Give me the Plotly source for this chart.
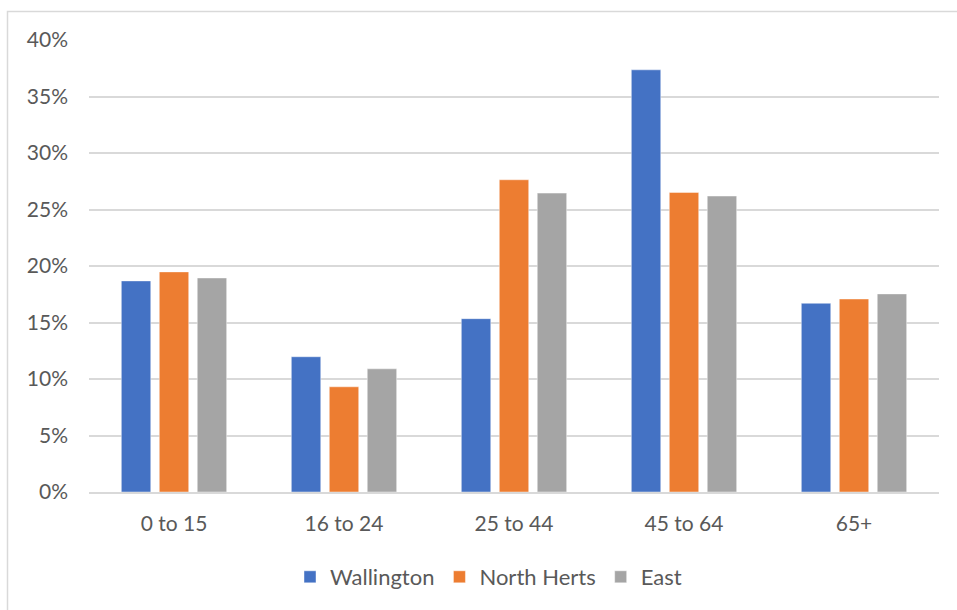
import plotly.graph_objects as go

categories = ["0 to 15", "16 to 24", "25 to 44", "45 to 64", "65+"]
wallington = [18.68, 11.97, 15.34, 37.36, 16.70]
north_herts = [19.48, 9.31, 27.63, 26.51, 17.08]
east = [18.94, 10.90, 26.45, 26.19, 17.53]
series_names = ["Wallington", "North Herts", "East"]
colors = ["#4472C4", "#ED7D31", "#A5A5A5"]
y_ticks = [0, 5, 10, 15, 20, 25, 30, 35, 40]
y_ticktext = [f"{v}%" for v in y_ticks]

W, H = 957, 610
L, R, T, B = 89, 18, 40, 118
pw, ph = W - L - R, H - T - B

font_family = "Lato, 'Open Sans', sans-serif"
text_color = "#595959"

fig = go.Figure()
for name, vals, col in zip(series_names, [wallington, north_herts, east], colors):
    fig.add_trace(go.Bar(
        x=categories, y=vals, name=name,
        marker=dict(color=col, line=dict(color="rgba(255,255,255,0.55)", width=0.8)),
    ))

# chart border (left & top visible, rest cropped)
xl = (7.5 - L) / pw
yt = 1 + (T - 11.5) / ph
xr = 1 + (W + 5 - (L + pw)) / pw
yb = -(H + 5 - (T + ph)) / ph
fig.add_shape(type="path", xref="paper", yref="paper",
              path=f"M {xl} {yb} L {xl} {yt} L {xr} {yt}",
              line=dict(color="#D9D9D9", width=1.5))

fig.update_layout(
    width=W, height=H,
    margin=dict(l=L, r=R, t=T, b=B, pad=0),
    paper_bgcolor="white", plot_bgcolor="white",
    barmode="group", bargap=0.33, bargroupgap=0.225,
    font=dict(family=font_family, size=21, color=text_color),
    showlegend=True,
    legend=dict(orientation="h", x=0.47, xanchor="center", y=-(577 - (T + ph)) / ph,
                yanchor="middle", font=dict(size=22, color=text_color),
                bgcolor="rgba(0,0,0,0)", itemwidth=30, traceorder="normal"),
    xaxis=dict(showgrid=False, showline=True, linecolor="#D9D9D9", linewidth=1.5,
               ticks="", ticklabelstandoff=12, tickfont=dict(size=21, color=text_color)),
    yaxis=dict(range=[0, 40], tickmode="array", tickvals=y_ticks, ticktext=y_ticktext,
               showgrid=True, gridcolor="#D9D9D9", gridwidth=1.5,
               zeroline=False, showline=False, ticks="", ticklabelstandoff=20,
               tickfont=dict(size=21, color=text_color)),
)

fig.write_html("out.html", config={"displayModeBar": False},
               post_script="document.body.style.margin='0';document.body.style.overflow='hidden';")
